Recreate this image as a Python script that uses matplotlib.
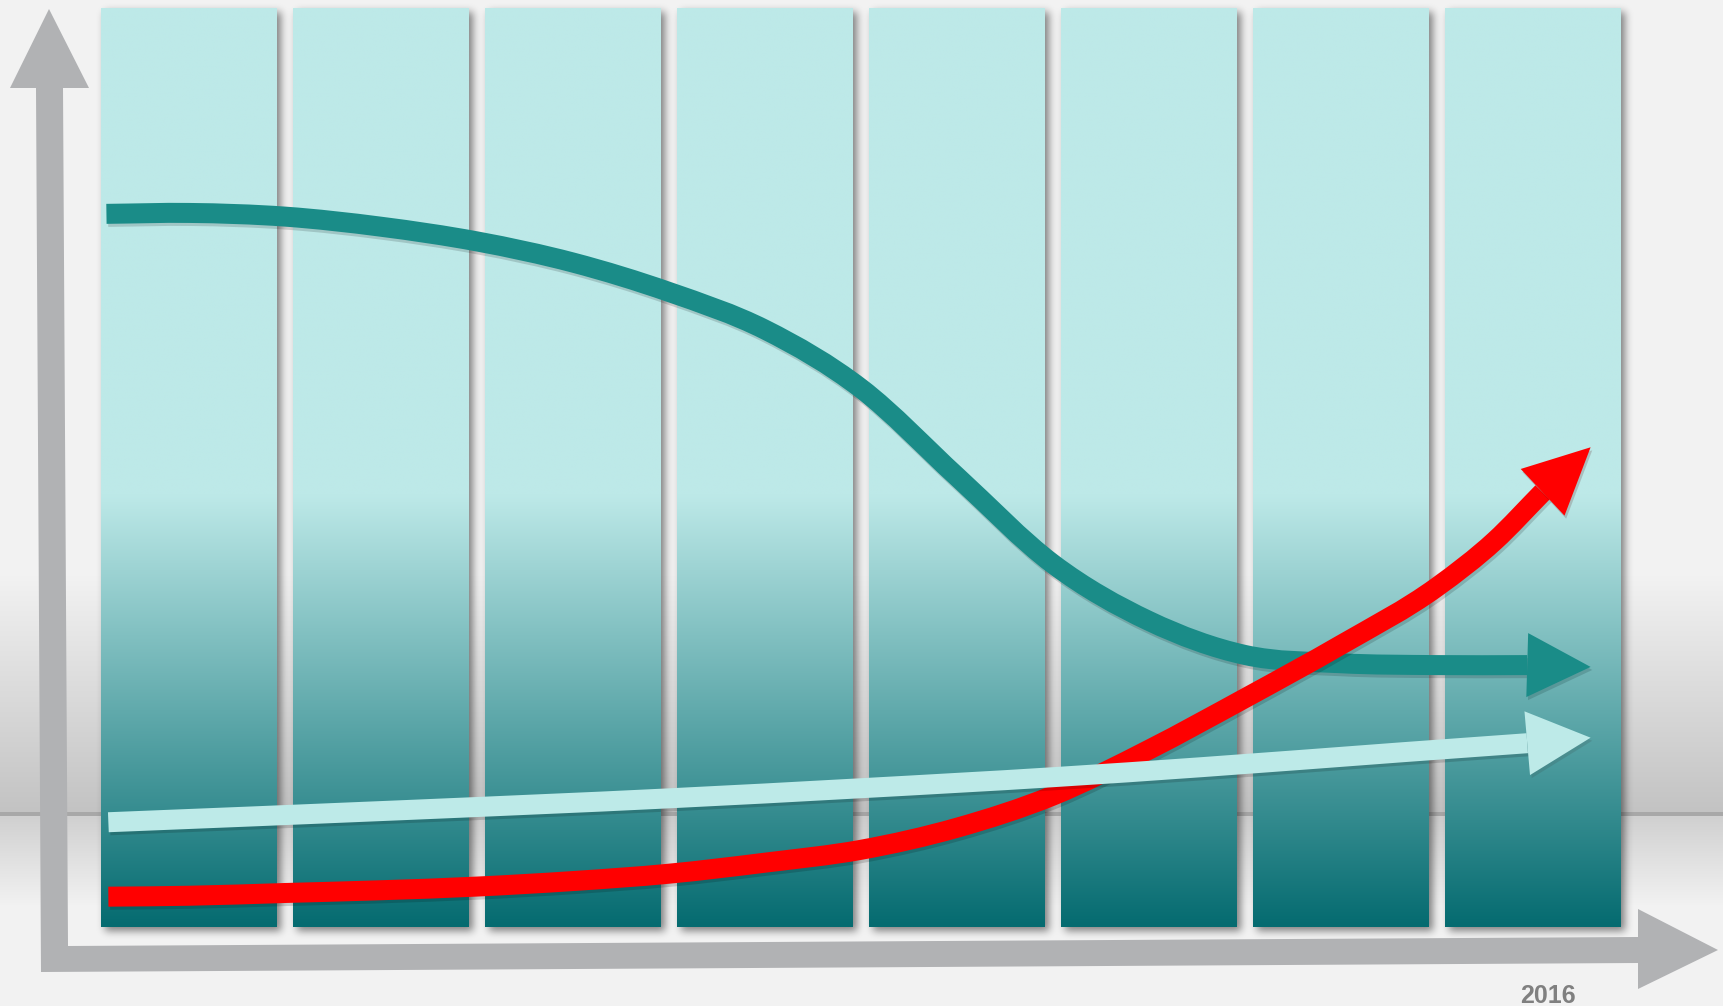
import numpy as np
import matplotlib
matplotlib.use("Agg")
import matplotlib.pyplot as plt
import matplotlib.patheffects as pe
from matplotlib.patches import Polygon, PathPatch
from matplotlib.path import Path
from matplotlib.transforms import IdentityTransform

W, H = 1723, 1006

# chart data (value scale 0-100, one bar per period)
periods = np.arange(8)
bar_height = [100] * 8
year_label = "2016"

teal_x = [-0.43, 0, 0.5, 1, 1.5, 2, 2.5, 3, 3.5, 4, 4.5, 5, 5.5, 6, 6.5, 6.97, 7.3]
teal_y = [77.6, 77.7, 77.3, 76.2, 74.6, 72.3, 69.1, 65.0, 58.6, 49.0, 39.5, 33.3, 29.6, 28.7, 28.5, 28.5, 28.3]

red_x = [-0.42, 0, 0.5, 1, 1.5, 2, 2.5, 3, 3.5, 4, 4.5, 5, 5.5, 6, 6.5, 6.8, 7.05, 7.3]
red_y = [3.3, 3.4, 3.7, 4.0, 4.4, 5.0, 5.8, 7.0, 8.4, 10.8, 14.3, 19.3, 24.9, 30.7, 37.0, 42.0, 47.3, 52.2]

cyan_x = [-0.42, 1.1, 2.5, 3.5, 4.5, 5.28, 6.31, 6.97, 7.3]
cyan_y = [11.4, 12.7, 14.0, 15.1, 16.3, 17.4, 19.0, 20.0, 20.6]

TEAL = "#1a8c88"
RED = "#ff0000"
CYAN = "#bdeae8"
BAR_TOP = np.array([189, 233, 232]) / 255
BAR_BOT = np.array([5, 107, 112]) / 255
AXIS_GREY = "#b1b2b4"

fig = plt.figure(figsize=(W / 100, H / 100), dpi=100)

# background with grey floor band
bg = fig.add_axes([0, 0, 1, 1], zorder=0)
bg.set_xlim(0, W)
bg.set_ylim(H, 0)
bg.axis("off")
rows = np.arange(H)
g = np.full(H, 242.0)
m = (rows >= 575) & (rows < 812)
g[m] = 242 - 47 * (rows[m] - 575) / 237
m = (rows >= 812) & (rows < 816)
g[m] = 168
m = (rows >= 816) & (rows < 905)
g[m] = 208 + 34 * (rows[m] - 816) / 89
bg.imshow(np.repeat(g[:, None, None] / 255, 3, axis=2), extent=[0, W, H, 0],
          aspect="auto", interpolation="nearest", zorder=0)

# main axes
ax = fig.add_axes([93 / W, (H - 927) / H, 1536 / W, 919 / H], zorder=2)
ax.patch.set_alpha(0)
ax.axis("off")

bw = 176 / 192
bars = ax.bar(periods, bar_height, width=bw, color="none", linewidth=0)

# gradient fill for each bar
vals = np.linspace(100, 0, 400)
t = np.clip((47 - vals) / 47, 0, 1)[:, None]
grad = (BAR_TOP * (1 - t) + BAR_BOT * t)[:, None, :]
for x, h in zip(periods, bar_height):
    ax.imshow(grad, extent=[x - bw / 2, x + bw / 2, 0, h], aspect="auto",
              interpolation="bilinear", zorder=1)
ax.set_xlim(-0.5, 7.5)
ax.set_ylim(0, 100)


# soft drop shadow for the bars
def blur(a, s):
    k = np.arange(-3 * s, 3 * s + 1)
    k = np.exp(-k ** 2 / (2.0 * s * s))
    k /= k.sum()
    a = np.apply_along_axis(lambda r: np.convolve(r, k, "same"), 1, a)
    a = np.apply_along_axis(lambda c: np.convolve(c, k, "same"), 0, a)
    return a


mask = np.zeros((H, W))
for b in bars:
    bb = b.get_window_extent()
    x0, x1 = int(round(bb.x0)) + 4, int(round(bb.x1)) + 4
    r0, r1 = int(round(H - bb.y1)) + 4, int(round(H - bb.y0)) + 4
    mask[r0:r1, x0:x1] = 1
shadow = np.zeros((H, W, 4))
shadow[..., 3] = 0.47 * blur(mask, 4)
bg.imshow(shadow, extent=[0, W, H, 0], aspect="auto", interpolation="nearest", zorder=1)

# axis arrows
axis_outline = [(36, 88), (63, 88), (68, 946), (1638, 937), (1638, 909), (1718, 950),
                (1638, 989), (1638, 963), (41, 972)]
axis_head = [(10, 88), (49, 9), (89, 88)]
bg.add_patch(Polygon(axis_outline, closed=True, fc=AXIS_GREY, ec="none", zorder=2))
bg.add_patch(Polygon(axis_head, closed=True, fc=AXIS_GREY, ec="none", zorder=2))

# trend arrows
lw = 20 * 72 / 100
line_fx = [pe.SimpleLineShadow(offset=(1.2, -2.2), alpha=0.15), pe.Normal()]
head_fx = [pe.SimplePatchShadow(offset=(1.2, -2.2), alpha=0.18), pe.Normal()]


def smooth_path(xs, ys):
    # cubic Hermite through the points, drawn as bezier segments
    x = np.asarray(xs, float)
    y = np.asarray(ys, float)
    d = np.gradient(y, x)
    verts = [(x[0], y[0])]
    codes = [Path.MOVETO]
    for i in range(len(x) - 1):
        h = x[i + 1] - x[i]
        verts += [(x[i] + h / 3, y[i] + d[i] * h / 3),
                  (x[i + 1] - h / 3, y[i + 1] - d[i + 1] * h / 3),
                  (x[i + 1], y[i + 1])]
        codes += [Path.CURVE4] * 3
    return Path(verts, codes)


def trend(xs, ys, color, z):
    ax.add_patch(PathPatch(smooth_path(xs[:-1], ys[:-1]), fill=False, ec=color, lw=lw,
                           capstyle="butt", joinstyle="round", zorder=z,
                           path_effects=line_fx))
    s, tip = ax.transData.transform(np.column_stack([xs[-2:], ys[-2:]]))
    d = (tip - s) / np.hypot(*(tip - s))
    n = np.array([-d[1], d[0]])
    ax.add_patch(Polygon([s + n * 32, tip, s - n * 32], closed=True,
                         transform=IdentityTransform(), fc=color, ec="none",
                         zorder=z, clip_on=False, path_effects=head_fx))


trend(teal_x, teal_y, TEAL, 3)
trend(red_x, red_y, RED, 4)
trend(cyan_x, cyan_y, CYAN, 5)

ax.annotate(year_label, xy=(periods[-1], 0), xytext=(15, -69), textcoords="offset pixels",
            ha="center", va="center", fontsize=18, fontweight="bold", color="#808080",
            family="Liberation Sans", annotation_clip=False)

fig.savefig("out.png", dpi=100)
